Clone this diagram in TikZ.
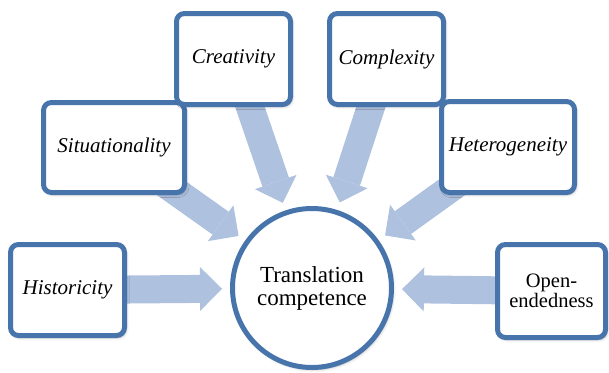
\documentclass[tikz,border=0pt]{standalone}
\usepackage{fontspec}
\setmainfont{Liberation Serif}
\usetikzlibrary{arrows.meta,backgrounds,shadows.blur}

\definecolor{edgeblue}{RGB}{72,116,172}
\definecolor{arrowblue}{RGB}{174,193,222}

\tikzset{
  softshadow/.style={blur shadow={shadow xshift=1.5pt, shadow yshift=-2pt,
      shadow opacity=30, shadow blur radius=3pt}},
  factor/.style={draw=edgeblue, line width=5pt, rounded corners=8pt,
      fill=white, inner sep=0pt, align=center, softshadow,
      font=\fontsize{21}{21}\selectfont\itshape},
  core/.style={circle, draw=edgeblue, line width=5pt, fill=white,
      inner sep=0pt, minimum size=159pt, align=center, softshadow,
      font=\fontsize{23}{23}\selectfont},
  flow/.style={line width=28pt, draw=arrowblue, shorten >=8pt,
      -{Triangle[width=44pt, length=22pt, line width=0pt]}}
}

\begin{document}
\begin{tikzpicture}[x=1pt, y=-1pt]
  \useasboundingbox (0,0) rectangle (609,372);

  % central concept
  \node[core] (tc) at (312,288) {Translation\\competence};

  % surrounding factors
  \node[factor, minimum width=114pt, minimum height=91pt] (hist) at (67.5,290) {Historicity};
  \node[factor, minimum width=141pt, minimum height=90pt] (situ) at (114,147.5) {Situationality};
  \node[factor, minimum width=114pt, minimum height=91pt] (crea) at (233.5,59) {Creativity};
  \node[factor, minimum width=114pt, minimum height=91pt] (comp) at (386.5,59) {Complexity};
  \node[factor, minimum width=133pt, minimum height=91pt] (hete) at (508,147) {Heterogeneity};
  \node[factor, minimum width=108pt, minimum height=93pt,
        font=\fontsize{20.5}{20}\selectfont] (open) at (551.5,291) {Open-\\endedness};

  % block arrows pointing at the centre
  \begin{scope}[on background layer]
    \draw[flow] (hist.center) -- (tc);
    \draw[flow] (situ.center) -- (tc);
    \draw[flow] (crea.center) -- (tc);
    \draw[flow] (comp.center) -- (tc);
    \draw[flow] (hete.center) -- (tc);
    \draw[flow] (open.center) -- (tc);
  \end{scope}
\end{tikzpicture}
\end{document}
